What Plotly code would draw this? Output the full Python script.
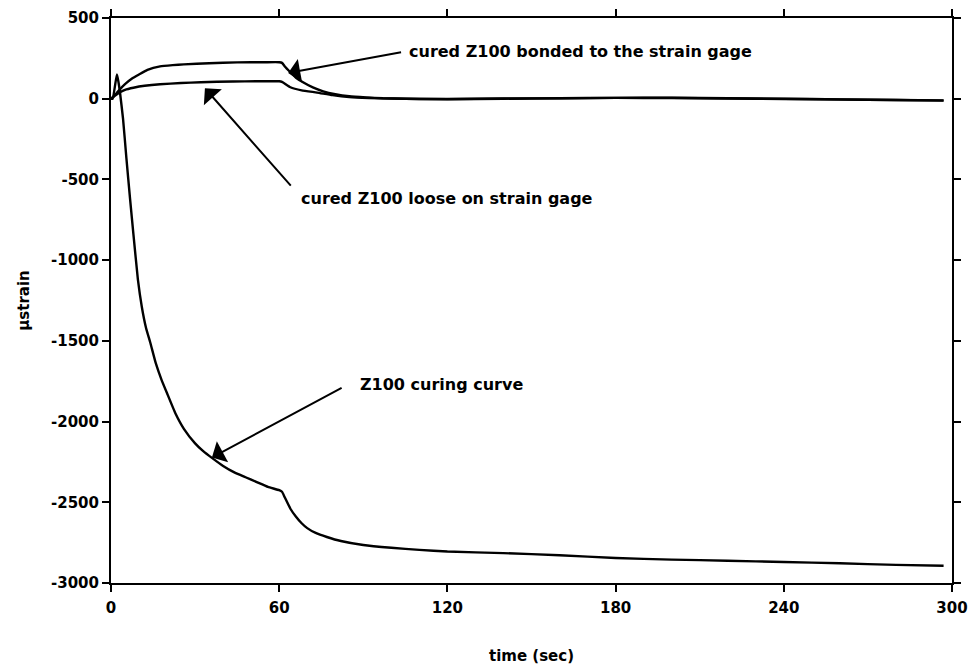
import plotly.graph_objects as go

# ---- data ----
t_cure = [0, 0.6, 2.1, 2.6, 3.2, 4.3, 5.5, 6.8, 8, 9.6, 11, 12.5, 14, 16, 18, 20, 23, 26, 30, 33, 36,
          40, 44, 48, 52, 56, 60, 61, 62, 64, 66, 68, 70, 73, 77, 82, 90, 100, 110, 120, 140, 160,
          180, 200, 220, 240, 260, 280, 297]
v_cure = [0, 0, 150, 110, 40, -125, -370, -620, -840, -1120, -1290, -1420, -1510, -1640, -1740, -1825,
          -1950, -2045, -2135, -2185, -2225, -2275, -2315, -2345, -2375, -2405, -2425, -2435, -2470,
          -2540, -2590, -2630, -2660, -2690, -2715, -2740, -2765, -2782, -2795, -2805, -2815, -2828,
          -2845, -2855, -2862, -2870, -2878, -2888, -2893]

t_bond = [0, 1, 2, 3, 5, 7.5, 10, 13, 17.5, 22, 26, 35, 45, 55, 60, 61, 62, 64, 66, 68.5, 72, 75.7,
          80, 85, 91, 97, 105, 120, 140, 160, 180, 200, 220, 240, 260, 280, 297]
v_bond = [0, 15, 35, 55, 90, 125, 150, 178, 200, 208, 213, 220, 225, 226, 226, 222, 200, 164, 130,
          102, 70, 46, 28, 15, 8, 3, 0, -3, 0, 2, 5, 6, 3, 0, -4, -8, -12]

t_loose = [0, 1.5, 3.2, 5, 8, 12, 17.5, 25, 32, 43.5, 52, 60, 61, 64, 68, 73.5, 79, 85, 92, 100,
           110, 120, 140, 160, 180, 200, 220, 240, 260, 280, 297]
v_loose = [0, 20, 40, 55, 68, 80, 90, 97, 102, 107, 108, 108, 104, 71, 52, 38, 22, 10, 4, 1, -2, -2,
           1, 3, 5, 4, 1, -2, -5, -8, -10]

x_ticks = [0, 60, 120, 180, 240, 300]
y_ticks = [500, 0, -500, -1000, -1500, -2000, -2500, -3000]

labels = ["cured Z100 bonded to the strain gage",
          "cured Z100 loose on strain gage",
          "Z100 curing curve"]
arrow_tip = [(63.2, 160), (33.5, 65), (36.0, -2222)]
arrow_tail = [(104, 290), (64.6, -548), (82.8, -1787)]
label_pos = [(105.5, 294), (67.0, -616), (88.2, -1770)]

FONT = "DejaVu Sans"

fig = go.Figure()
for tx, vy in [(t_cure, v_cure), (t_bond, v_bond), (t_loose, v_loose)]:
    fig.add_trace(go.Scatter(x=tx, y=vy, mode="lines",
                             line=dict(color="black", width=2.4, shape="spline", smoothing=0.4),
                             showlegend=False, hoverinfo="skip"))

for lab, tip, tail, pos in zip(labels, arrow_tip, arrow_tail, label_pos):
    fig.add_annotation(x=tip[0], y=tip[1], ax=tail[0], ay=tail[1], xref="x", yref="y",
                       axref="x", ayref="y", text="", showarrow=True, arrowhead=1,
                       arrowsize=2.0, arrowwidth=2.0, arrowcolor="black", standoff=0,
                       startstandoff=0)
    fig.add_annotation(x=pos[0], y=pos[1], xref="x", yref="y", text=lab, showarrow=False,
                       xanchor="left", yanchor="middle",
                       font=dict(family=FONT, size=16, color="black", weight="bold"))

axis_common = dict(showline=True, linecolor="black", linewidth=2, mirror="ticks",
                   ticks="outside", ticklen=7, tickwidth=1.8, tickcolor="black",
                   showgrid=False, zeroline=False, automargin=False,
                   tickfont=dict(family=FONT, size=15, color="black", weight="bold"))

fig.update_xaxes(range=[0, 300], tickvals=x_ticks, ticktext=[str(v) for v in x_ticks],
                 ticklabelstandoff=3,
                 title=dict(text="time (sec)", standoff=34,
                            font=dict(family=FONT, size=15, color="black", weight="bold")),
                 **axis_common)
fig.update_yaxes(range=[-3000, 500], tickvals=y_ticks, ticktext=[str(v) for v in y_ticks],
                 title=dict(text="µstrain", standoff=18,
                            font=dict(family=FONT, size=15, color="black", weight="bold")),
                 **axis_common)

fig.update_layout(width=976, height=672, margin=dict(l=111, r=24, t=18, b=89),
                  paper_bgcolor="white", plot_bgcolor="white")

fig.write_html("out.html")
